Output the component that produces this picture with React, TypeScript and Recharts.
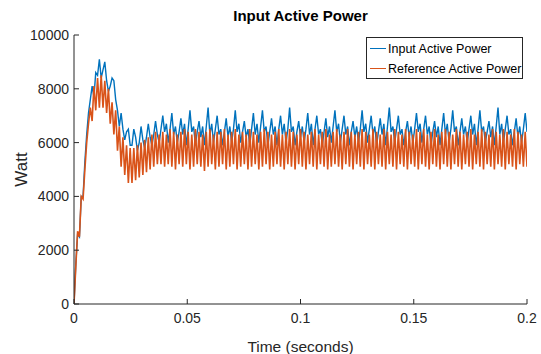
import React from 'react';
import { LineChart, Line, XAxis, YAxis, Label } from 'recharts';

// sample interval of the recorded signals (seconds)
const sampleStep = 0.0008;

const xTicks = [0, 0.05, 0.1, 0.15, 0.2];
const yTicks = [0, 2000, 4000, 6000, 8000, 10000];

const inputPower = [
    0, 1500, 2600, 2500, 4000, 4000, 5300, 6300, 7100, 7600,
    8100, 7700, 8600, 8500, 9100, 8400, 8700, 9000, 8300, 7900,
    8100, 8400, 8300, 7600, 7200, 6600, 7100, 6500, 6100, 6400,
    6500, 5900, 5900, 6500, 6200, 5700, 6000, 6600, 6100, 5800,
    6200, 6700, 6200, 5900, 6300, 6800, 6300, 6000, 6500, 7000,
    6400, 6700, 6000, 6500, 7100, 6300, 6600, 6000, 6400, 6900,
    6300, 6700, 5900, 6500, 7200, 6400, 6600, 5900, 6400, 6800,
    6200, 6600, 5900, 6600, 7300, 6300, 6700, 6000, 6500, 7000,
    6300, 6500, 5900, 6400, 6900, 6200, 6600, 6000, 6500, 7200,
    6400, 6700, 6000, 6400, 6800, 6200, 6500, 5900, 6500, 7100,
    6300, 6700, 6000, 6600, 7200, 6400, 6600, 5900, 6400, 6900,
    6300, 6600, 5900, 6500, 7000, 6300, 6700, 6000, 6500, 7300,
    6400, 6600, 5900, 6400, 6800, 6200, 6600, 6000, 6500, 7100,
    6300, 6700, 5900, 6500, 7000, 6300, 6500, 5900, 6400, 6900,
    6200, 6600, 6000, 6600, 7200, 6400, 6700, 6000, 6500, 7000,
    6300, 6600, 5900, 6400, 6800, 6200, 6600, 6000, 6500, 7200,
    6400, 6700, 6000, 6500, 7000, 6300, 6600, 5900, 6400, 6900,
    6300, 6700, 5900, 6600, 7300, 6400, 6600, 6000, 6500, 7000,
    6300, 6500, 5900, 6400, 6800, 6200, 6600, 6000, 6500, 7100,
    6400, 6700, 6000, 6500, 7000, 6300, 6600, 5900, 6400, 6800,
    6200, 6600, 5900, 6500, 7100, 6300, 6700, 6000, 6500, 7200,
    6400, 6600, 5900, 6400, 6900, 6300, 6600, 6000, 6500, 7000,
    6300, 6700, 5900, 6500, 7200, 6400, 6600, 6000, 6400, 6800,
    6200, 6600, 5900, 6600, 7300, 6300, 6700, 6000, 6500, 7000,
    6300, 6500, 5900, 6400, 6900, 6200, 6600, 6000, 6500, 7100,
    6400,
];

const referencePower = [
    0, 1400, 2700, 2500, 4000, 3900, 5000, 6000, 6700, 7300,
    6800, 8100, 7200, 8400, 7300, 8500, 7300, 8300, 7100, 8000,
    6700, 7500, 6300, 7200, 5700, 6600, 5100, 6200, 4800, 5900,
    4500, 5800, 4500, 5800, 4600, 5900, 4700, 6000, 4800, 6100,
    4900, 6200, 5000, 6300, 5100, 6400, 5200, 6300, 5200, 6400,
    5100, 6300, 5200, 6500, 5100, 6400, 5000, 6300, 5200, 6400,
    5100, 6500, 5200, 6400, 5000, 6300, 5100, 6500, 5200, 6400,
    5100, 6300, 4950, 6400, 5100, 6500, 5200, 6300, 5000, 6400,
    5100, 6400, 5200, 6500, 5000, 6300, 5100, 6400, 5200, 6500,
    5000, 6300, 5100, 6400, 5200, 6300, 5000, 6500, 5100, 6400,
    5200, 6300, 5000, 6400, 5100, 6500, 5200, 6400, 5000, 6300,
    5100, 6400, 5200, 6500, 5100, 6300, 5000, 6400, 5200, 6500,
    5100, 6400, 5000, 6300, 5200, 6500, 5100, 6400, 5000, 6300,
    5200, 6400, 5100, 6500, 5000, 6300, 5200, 6400, 5100, 6500,
    5000, 6300, 5100, 6400, 5200, 6500, 5100, 6300, 5000, 6400,
    5200, 6500, 5100, 6400, 5000, 6300, 5200, 6400, 5100, 6500,
    5000, 6400, 5200, 6300, 5100, 6500, 5000, 6400, 5200, 6300,
    5100, 6500, 5000, 6400, 5200, 6300, 5100, 6500, 5000, 6400,
    5200, 6300, 5100, 6500, 5000, 6400, 5200, 6300, 5100, 6500,
    5000, 6400, 5200, 6500, 5100, 6300, 5000, 6400, 5200, 6500,
    5100, 6300, 5000, 6400, 5200, 6500, 5100, 6400, 5000, 6300,
    5200, 6500, 5100, 6400, 5000, 6300, 5200, 6400, 5100, 6500,
    5000, 6300, 5200, 6400, 5100, 6500, 5000, 6400, 5200, 6300,
    5100, 6500, 5000, 6400, 5200, 6300, 5100, 6500, 5000, 6400,
    5200, 6300, 5100, 6500, 5000, 6400, 5200, 6300, 5100, 6400,
    5100,
];

const data = inputPower.map((v, i) => ({
    t: +(i * sampleStep).toFixed(4),
    input: v,
    reference: referencePower[i],
}));

const axisColor = '#262626';
const font = '"Liberation Sans", Arial, sans-serif';

const BottomTick = (props: any) => {
    const { x, y, payload } = props;
    return (
        <g>
            <line x1={x} x2={x} y1={y} y2={y - 5} stroke={axisColor} />
            <text x={x} y={y + 19} textAnchor="middle" fill={axisColor} fontSize={14} fontFamily={font}>
                {payload.value}
            </text>
        </g>
    );
};

const LeftTick = (props: any) => {
    const { x, y, payload } = props;
    return (
        <g>
            <line x1={x} x2={x + 5} y1={y} y2={y} stroke={axisColor} />
            <text x={x - 5} y={y + 5} textAnchor="end" fill={axisColor} fontSize={14} fontFamily={font}>
                {payload.value}
            </text>
        </g>
    );
};

const TopTick = (props: any) => {
    const { x, y } = props;
    return <line x1={x} x2={x} y1={y} y2={y + 5} stroke={axisColor} />;
};

const RightTick = (props: any) => {
    const { x, y } = props;
    return <line x1={x} x2={x - 5} y1={y} y2={y} stroke={axisColor} />;
};

const App: React.FC = () => {
    return (
        <div style={{ position: 'absolute', left: 0, top: 0, width: 541, height: 354, background: '#fff' }}>
            <div
                style={{
                    position: 'absolute',
                    left: 74,
                    width: 453,
                    top: 7,
                    textAlign: 'center',
                    fontFamily: font,
                    fontWeight: 'bold',
                    fontSize: 15,
                    color: '#000',
                }}
            >
                Input Active Power
            </div>
            <LineChart
                width={541}
                height={354}
                data={data}
                margin={{ top: 35, right: 14, left: 24, bottom: 20 }}
            >
                <XAxis
                    dataKey="t"
                    type="number"
                    domain={[0, 0.2]}
                    ticks={xTicks}
                    allowDataOverflow
                    height={30}
                    stroke={axisColor}
                    tickLine={false}
                    tickSize={0}
                    tickMargin={0}
                    tick={<BottomTick />}
                >
                    <Label
                        value="Time (seconds)"
                        position="bottom"
                        offset={7}
                        style={{ fill: axisColor, fontSize: 15.5, fontFamily: font }}
                    />
                </XAxis>
                <XAxis
                    xAxisId="top"
                    orientation="top"
                    dataKey="t"
                    type="number"
                    domain={[0, 0.2]}
                    ticks={xTicks}
                    allowDataOverflow
                    height={0}
                    stroke={axisColor}
                    tickLine={false}
                    tickSize={0}
                    tickMargin={0}
                    tick={<TopTick />}
                />
                <YAxis
                    type="number"
                    domain={[0, 10000]}
                    ticks={yTicks}
                    width={50}
                    stroke={axisColor}
                    tickLine={false}
                    tickSize={0}
                    tickMargin={0}
                    tick={<LeftTick />}
                >
                    <Label
                        value="Watt"
                        angle={-90}
                        position="insideLeft"
                        offset={-3}
                        style={{ fill: axisColor, fontSize: 17, fontFamily: font, textAnchor: 'middle' }}
                    />
                </YAxis>
                <YAxis
                    yAxisId="right"
                    orientation="right"
                    type="number"
                    domain={[0, 10000]}
                    ticks={yTicks}
                    width={0}
                    stroke={axisColor}
                    tickLine={false}
                    tickSize={0}
                    tickMargin={0}
                    tick={<RightTick />}
                />
                <Line
                    type="linear"
                    dataKey="input"
                    stroke="#0072BD"
                    strokeWidth={1.4}
                    dot={false}
                    isAnimationActive={false}
                />
                <Line
                    type="linear"
                    dataKey="reference"
                    stroke="#D95319"
                    strokeWidth={1.6}
                    dot={false}
                    isAnimationActive={false}
                />
            </LineChart>
            <div
                style={{
                    position: 'absolute',
                    left: 366,
                    top: 37,
                    width: 157,
                    height: 42,
                    border: `1px solid ${axisColor}`,
                    background: '#fff',
                    fontFamily: font,
                    fontSize: 12.5,
                    color: '#000',
                    boxSizing: 'border-box',
                }}
            >
                {[
                    { name: 'Input Active Power', color: '#0072BD' },
                    { name: 'Reference Active Power', color: '#D95319' },
                ].map((item) => (
                    <div key={item.name} style={{ display: 'flex', alignItems: 'center', height: 19, marginTop: 1 }}>
                        <span style={{ display: 'inline-block', width: 16, height: 0, borderTop: `1.5px solid ${item.color}`, margin: '0 2px 0 3px' }} />
                        <span style={{ whiteSpace: 'nowrap' }}>{item.name}</span>
                    </div>
                ))}
            </div>
        </div>
    );
};

export default App;
